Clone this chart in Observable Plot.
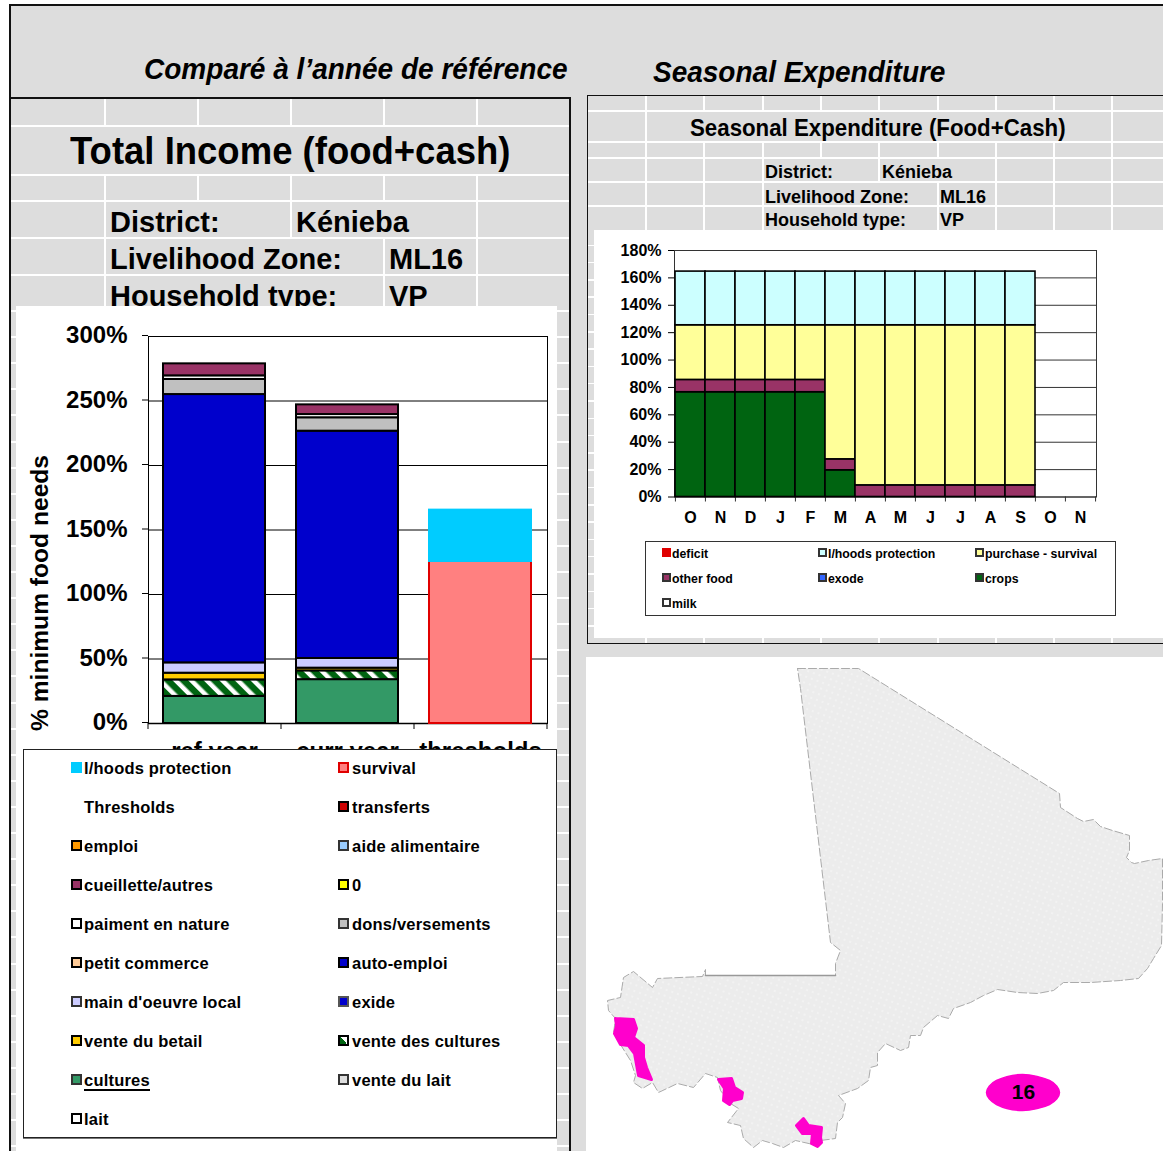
<!DOCTYPE html>
<html><head><meta charset="utf-8">
<script src="https://cdn.jsdelivr.net/npm/d3@7"></script>
<script src="https://cdn.jsdelivr.net/npm/@observablehq/plot@0.6"></script>
<style>
html,body{margin:0;padding:0;background:#fff;overflow:hidden}
#page{position:relative;width:1163px;height:1151px;overflow:hidden;background:#fff;font-family:"Liberation Sans",Arial,sans-serif;color:#000}
.a{position:absolute;white-space:nowrap;transform-origin:left center}
.b{font-weight:bold}
.g{position:absolute;background:#fff}
.k{position:absolute;background:#111}
.h{position:absolute;background:#dddddd}
.sw{position:absolute;box-sizing:border-box}
svg{display:block}
</style></head><body><div id="page"></div>
<svg width="0" height="0" style="position:absolute"><defs>
<pattern id="hatch" width="11" height="11" patternUnits="userSpaceOnUse" patternTransform="rotate(-45)"><rect width="11" height="11" fill="#006411"/><rect x="0" width="4.5" height="11" fill="#fff"/></pattern>
<pattern id="mapdots" width="6" height="6" patternUnits="userSpaceOnUse" patternTransform="rotate(20)"><rect width="6" height="6" fill="#ececec"/><circle cx="3" cy="3" r="0.7" fill="#fff"/></pattern>
</defs></svg>
<script>
// ---------- Total income chart ----------
const incomeCategories = ["ref year", "curr year", "thresholds"];
const incomeSeries = ["cultures","vente des cultures","vente du betail","main d'oeuvre local","auto-emploi","dons/versements","paiment en nature","cueillette/autres","survival","l/hoods protection"];
const incomeColors = ["#339966","url(#hatch)","#ffcc00","#ccccff","#0000cc","#c0c0c0","#ffffff","#993366","#ff8080","#00ccff"];
const incomeStroke = ["#000","#000","#000","#000","#000","#000","#000","#000","#e00000","#00ccff"];
const refYear   = [21, 12.8, 5.2, 8, 208, 11.7, 2.8, 9.3, 0, 0];
const currYear  = [34, 6.8, 2.1, 7.5, 176.2, 10.4, 2.5, 7.5, 0, 0];
const thresholds= [0, 0, 0, 0, 0, 0, 0, 0, 125.6, 39.8];
const incomeTicks = [0,50,100,150,200,250,300];

// ---------- Seasonal expenditure chart ----------
const months = ["O","N","D","J","F","M","A","M","J","J","A","S","O","N"];
const expSeries = ["crops","other food","purchase - survival","l/hoods protection"];
const expColors = ["#006411","#993366","#ffff99","#ccffff"];
const crops    = [76.5,76.5,76.5,76.5,76.5,19.5,0,0,0,0,0,0,0,0];
const otherFood= [9,9,9,9,9,8,8.5,8.5,8.5,8.5,8.5,8.5,0,0];
const purchase = [39.9,39.9,39.9,39.9,39.9,97.9,116.9,116.9,116.9,116.9,116.9,116.9,0,0];
const lhoods   = [39.2,39.2,39.2,39.2,39.2,39.2,39.2,39.2,39.2,39.2,39.2,39.2,0,0];
const expTicks = [0,20,40,60,80,100,120,140,160,180];

// ---------- Legends ----------
const leftLegendCol1 = [["l/hoods protection","#00ccff","#00ccff"],["Thresholds",null,null],["emploi","#ff9900","#000"],["cueillette/autres","#993366","#000"],["paiment en nature","#ffffff","#000"],["petit commerce","#ffcc99","#000"],["main d'oeuvre local","#ccccff","#333"],["vente du betail","#ffcc00","#000"],["cultures","#339966","#333"],["lait","#ffffff","#000"]];
const leftLegendCol2 = [["survival","#ff8080","#e00000"],["transferts","#cc0000","#000"],["aide alimentaire","#99ccff","#333"],["0","#ffff00","#000"],["dons/versements","#c0c0c0","#333"],["auto-emploi","#0000cc","#000"],["exide","#0000cc","#555"],["vente des cultures","url(#hatch)","#000"],["vente du lait","#dddddd","#333"]];
const rightLegend = [["deficit","#e00000","#e00000",0,0],["l/hoods protection","#ccffff","#333",1,0],["purchase - survival","#ffff99","#333",2,0],["other food","#993366","#333",0,1],["exode","#3366ff","#333",1,1],["crops","#006411","#333",2,1],["milk","#ffffff","#333",0,2]];

// ---------- Map outlines ----------
const maliOutline = [[797,668],[858,668],[1059,793],[1060,807],[1077,818],[1083,821],[1093,819],[1100,826],[1112,830],[1129,835],[1129,850],[1126,857],[1131,862],[1134,863],[1148,860],[1162,858],[1162,903],[1161,945],[1153,958],[1147,968],[1138,978],[1120,980],[1090,982],[1063,982],[1053,990],[1037,993],[1017,992],[997,989],[983,995],[970,1002],[953,1008],[948,1018],[937,1015],[923,1027],[920,1035],[910,1035],[908,1047],[900,1050],[885,1043],[877,1052],[877,1065],[870,1067],[868,1080],[857,1088],[838,1095],[845,1103],[842,1117],[837,1122],[835,1138],[820,1140],[817,1145],[795,1140],[783,1147],[772,1143],[762,1140],[753,1147],[743,1138],[740,1125],[727,1122],[738,1108],[730,1103],[720,1090],[717,1077],[705,1073],[693,1087],[677,1083],[658,1092],[652,1082],[642,1088],[633,1082],[635,1075],[630,1060],[613,1033],[615,1018],[608,1010],[607,1000],[620,997],[623,977],[633,971],[652,987],[657,978],[702,976],[705,969],[705,975],[835,975],[835,963],[840,950],[830,942],[800,688]];
const zoneA = [[615,1018],[633,1019],[636,1028],[633,1037],[643,1045],[643,1057],[646,1067],[651,1079],[638,1075],[634,1053],[628,1045],[620,1044],[614,1033],[616,1025]];
const zoneB = [[718,1079],[731,1078],[734,1087],[742,1092],[741,1098],[732,1100],[729,1104],[723,1100],[724,1088]];
const zoneC = [[796,1125],[803,1118],[808,1125],[821,1127],[820,1137],[821,1142],[817,1146],[811,1143],[812,1133],[802,1133]];
const zoneBadge = [[986,1092],[996,1080],[1022,1074],[1049,1080],[1059,1092],[1049,1104],[1022,1110],[996,1104]];

const page = document.getElementById("page");
function el(cls, css, text){const d=document.createElement("div");d.className=cls;d.style.cssText=css;if(text!=null)d.textContent=text;page.appendChild(d);return d;}
function box(cls,x,y,w,h){return el(cls,`left:${x}px;top:${y}px;width:${w}px;height:${h}px`);}
function txt(t,x,y,size,extra=""){return el("a b",`left:${x}px;top:${y-size*0.58}px;font-size:${size}px;line-height:${size*1.16}px;${extra}`,t);}

// sheet background and frames
box("h",9,4,1154,1147);
box("k",9,4,1154,2); box("k",9,4,2,1147);
box("k",10,97,561,2); box("k",569,97,2,1054);

// left-sheet grid
[126,175,201,238,275].forEach(y=>box("g",11,y-1,558,2));
for(let y=311;y<1151;y+=26.1) box("g",11,y-1,558,2);
[[105,99,27],[198,99,27],[291,99,27],[384,99,27],[477,99,27],[105,175,136],[198,175,26],[291,175,63],[384,175,26],[384,238,73],[477,175,136]].forEach(v=>box("g",v[0]-1,v[1],2,v[2]));

// left-sheet titles
el("a b","left:144px;top:50.5px;font-size:30px;line-height:36px;font-style:italic;transform:scaleX(0.934)","Comparé à l’année de référence");
txt("Total Income (food+cash)",70,151,39,"transform:scaleX(0.936)");
txt("District:",110,222.5,29); txt("Kénieba",296,222.5,29);
txt("Livelihood Zone:",110,259.5,29); txt("ML16",389,259.5,29);
txt("Household type:",110,296.5,29); txt("VP",389,296.5,29);

// right-sheet
box("k",587,95,576,1); box("k",587,95,1,549); box("k",587,643,576,1);
[111,142,158,182,206].forEach(y=>box("g",588,y-1,575,2));
for(let y=245;y<638;y+=17.3) box("g",588,y-0.5,575,1.5);
const sheetCols=[645,703,762,820,878,937,995,1053,1111];
sheetCols.forEach(x=>{box("g",x,96,2,15);box("g",x,142,2,16);box("g",x,638,2,5);});
[645,1111].forEach(x=>box("g",x,111,2,31));
[645,703,762,878,995,1053,1111].forEach(x=>box("g",x,158,2,24));
[645,703,762,937,995,1053,1111].forEach(x=>box("g",x,182,2,48));
el("a b","left:653px;top:54px;font-size:30px;line-height:36px;font-style:italic;transform:scaleX(0.933)","Seasonal Expenditure");
txt("Seasonal Expenditure (Food+Cash)",690,128,24,"transform:scaleX(0.928)");
txt("District:",765,172,18); txt("Kénieba",882,172,18);
txt("Livelihood Zone:",765,197,18); txt("ML16",940,197,18);
txt("Household type:",765,220,18); txt("VP",940,220,18);

// white panels
box("g",16,306,541,845);
box("g",594,230,569,408);
box("g",586,657,577,494);

// ---------- Plot 1: income ----------
const incomeRows = [];
incomeSeries.forEach((s,i)=>{[refYear,currYear,thresholds].forEach((v,c)=>{ if(v[i]>0) incomeRows.push({category:incomeCategories[c],series:s,value:v[i],edge:incomeStroke[i]}); });});
const incomeStep = 133;
const p1 = Plot.plot({
  width:540,height:480,marginLeft:132,marginRight:9,marginTop:30,marginBottom:63,
  style:{fontFamily:'"Liberation Sans",Arial,sans-serif',background:"transparent",color:"#000"},
  x:{domain:incomeCategories,paddingInner:0.23,paddingOuter:0.115,label:null},
  y:{domain:[0,300],label:null},
  color:{domain:incomeSeries,range:incomeColors},
  marks:[
    Plot.frame({stroke:"#000",strokeWidth:1}),
    Plot.ruleY(incomeTicks,{stroke:"#000",strokeWidth:1}),
    Plot.axisY({ticks:incomeTicks,tickSize:6,tickPadding:15,tickFormat:d=>d+"%",fontSize:24,fontWeight:"bold",label:null,stroke:"#000",dy:-1}),
    Plot.axisX({tickSize:0,tickPadding:18,fontSize:24,fontWeight:"bold",label:null}),
    Plot.ruleX(incomeCategories,{x:d=>d,y1:0,y2:0,dx:-incomeStep/2,insetBottom:-6,stroke:"#000"}),
    Plot.ruleX([incomeCategories[2]],{x:d=>d,y1:0,y2:0,dx:incomeStep/2,insetBottom:-6,stroke:"#000"}),
    Plot.ruleY([0],{stroke:"#000",strokeWidth:1.5}),
    Plot.barY(incomeRows,{x:"category",y:"value",fill:"series",stroke:"edge",strokeWidth:2,order:null}),
    Plot.text(["% minimum food needs"],{frameAnchor:"left",rotate:-90,dx:-108,dy:201,fontSize:24.6,fontWeight:"bold",fill:"#000"})
  ]
});
p1.style.cssText+=";position:absolute;left:16px;top:306px";
page.appendChild(p1);

// ---------- Plot 2: expenditure ----------
const expRows = [];
[crops,otherFood,purchase,lhoods].forEach((v,s)=>v.forEach((val,m)=>{ if(val>0) expRows.push({month:m,series:expSeries[s],value:val}); }));
const expStep = 422/14;
const p2 = Plot.plot({
  width:569,height:310,marginLeft:80,marginRight:67,marginTop:21,marginBottom:42.5,
  style:{fontFamily:'"Liberation Sans",Arial,sans-serif',background:"transparent",color:"#000"},
  x:{domain:d3.range(months.length),padding:0,label:null},
  y:{domain:[0,180],label:null},
  color:{domain:expSeries,range:expColors},
  marks:[
    Plot.frame({stroke:"#333",strokeWidth:1}),
    Plot.ruleY(expTicks,{stroke:"#333",strokeWidth:1}),
    Plot.axisY({ticks:expTicks,tickSize:6,tickPadding:7,tickFormat:d=>d+"%",fontSize:16,fontWeight:"bold",label:null,stroke:"#000"}),
    Plot.axisX({tickSize:0,tickPadding:15,tickFormat:i=>months[i],fontSize:16,fontWeight:"bold",label:null}),
    Plot.ruleX(d3.range(months.length),{x:d=>d,y1:0,y2:0,dx:-expStep/2,insetBottom:-5,stroke:"#333"}),
    Plot.ruleX([months.length-1],{x:d=>d,y1:0,y2:0,dx:expStep/2,insetBottom:-5,stroke:"#333"}),
    Plot.barY(expRows,{x:"month",y:"value",fill:"series",stroke:"#000",strokeWidth:1.6,order:null})
  ]
});
p2.style.cssText+=";position:absolute;left:594px;top:229px";
page.appendChild(p2);

// ---------- Plot 3: map ----------
const toPts = a=>a.map(([x,y])=>({x,y}));
const close = a=>toPts([...a,a[0]]);
const p3 = Plot.plot({
  width:577,height:494,margin:0,axis:null,
  style:{background:"transparent"},
  x:{domain:[586,1163]},y:{domain:[1151,657]},
  marks:[
    Plot.line(close(maliOutline),{x:"x",y:"y",fill:"url(#mapdots)",stroke:"#aaa",strokeWidth:1,strokeDasharray:"8 3"}),
    Plot.line(toPts([[705,975],[835,975]]),{x:"x",y:"y",stroke:"#999",strokeWidth:1.5}),
    ...[zoneA,zoneB,zoneC].map(z=>Plot.line(close(z),{x:"x",y:"y",fill:"#ff00cc",stroke:"#ff00cc",strokeWidth:3,strokeLinejoin:"round"})),
    Plot.line(zoneBadge,{x:d=>d[0],y:d=>d[1],curve:"cardinal-closed",fill:"#ff00cc",stroke:"#ff00cc"}),
    Plot.text(["16"],{x:1023,y:1092,fontSize:21,fontWeight:"bold",fill:"#000",fontFamily:'"Liberation Sans",Arial,sans-serif'})
  ]
});
p3.style.cssText+=";position:absolute;left:586px;top:657px";
page.appendChild(p3);

// ---------- Left legend ----------
const lg = box("g",23,749,532,387); lg.style.border="1px solid #222"; lg.style.boxShadow="0 1px 0 #777"; lg.style.zIndex=5;
function swatch(x,y,fill,stroke,size=11){
  const s=el("sw",`left:${x}px;top:${y-size/2}px;width:${size}px;height:${size}px;border:${stroke===fill?0:2}px solid ${stroke};z-index:6;`+(fill.startsWith("url")?`background:linear-gradient(45deg,#006411 50%,#fff 50%)`:`background:${fill}`));
  return s;
}
const legendRowY = i=>769+39*i;
[[leftLegendCol1,71,84],[leftLegendCol2,338,352]].forEach(([items,sx,tx])=>items.forEach((it,i)=>{
  if(it[1]) swatch(sx,legendRowY(i)-1.5,it[1],it[2]);
  txt(it[0],tx,legendRowY(i),16.5,"z-index:6;letter-spacing:0.2px;"+(it[0]==="cultures"?"border-bottom:2px solid #000;line-height:18px;":""));
}));

// ---------- Right legend ----------
const rg = box("g",645,541,469,73); rg.style.border="1px solid #333"; rg.style.zIndex=5;
const rx=[[662,672],[818,828],[975,985]], ry=[554,579,604];
rightLegend.forEach(([t,f,st,c,r])=>{
  swatch(rx[c][0],ry[r]-1.5,f,st,9);
  txt(t,rx[c][1],ry[r],12.3,"z-index:6;");
});
</script></body></html>
